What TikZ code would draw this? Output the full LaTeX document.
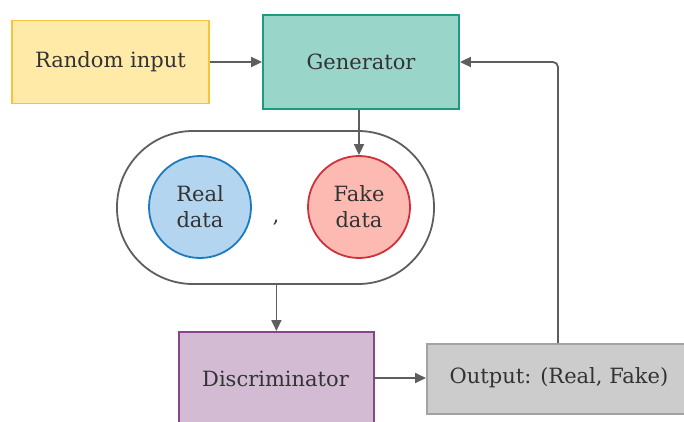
\documentclass[tikz,border=0pt]{standalone}
\usepackage{fontspec}
\setmainfont{DejaVu Serif}
\usetikzlibrary{arrows.meta}
\definecolor{lineC}{HTML}{5E5E5E}
\definecolor{txtC}{HTML}{333333}
\definecolor{randF}{HTML}{FFEBA7}
\definecolor{randD}{HTML}{F7C33E}
\definecolor{genF}{HTML}{9AD5CA}
\definecolor{genD}{HTML}{1E9A80}
\definecolor{realF}{HTML}{B3D5F0}
\definecolor{realD}{HTML}{1C7BBF}
\definecolor{fakeF}{HTML}{FDBAB3}
\definecolor{fakeD}{HTML}{CF313B}
\definecolor{discF}{HTML}{D3BBD4}
\definecolor{discD}{HTML}{87458A}
\definecolor{outF}{HTML}{CCCCCC}
\definecolor{outD}{HTML}{A3A3A3}
\tikzset{
  x=1pt, y=-1pt,
  lbl/.style={text=txtC, font=\fontsize{21}{25}\selectfont},
  box/.style={draw, line width=1.8pt, inner sep=0pt, lbl},
  dot/.style={draw, circle, line width=1.8pt, minimum size=102pt, inner sep=0pt, align=center, lbl, font=\fontsize{21}{26}\selectfont},
  conn/.style={draw=lineC, line width=1.8pt, -{Triangle[length=11pt,width=10pt]}},
}
\begin{document}
\begin{tikzpicture}
\useasboundingbox (0,0) rectangle (684,421);
\clip (0,0) rectangle (684,421);
\node[box, fill=randF, draw=randD, minimum width=197pt, minimum height=83pt] (rand) at (110.5,62) {Random input};
\node[box, fill=genF, draw=genD, minimum width=196pt, minimum height=94pt] (gen) at (361,62) {Generator};
\node[draw=lineC, line width=1.8pt, rounded corners=76pt, minimum width=317pt, minimum height=153pt] (cont) at (275.5,207.5) {};
\node[dot, fill=realF, draw=realD] (real) at (200,207) {\raisebox{-6pt}{Real}\\\raisebox{-6pt}{data}};
\node[dot, fill=fakeF, draw=fakeD] (fake) at (359,207) {\raisebox{-6pt}{Fake}\\\raisebox{-6pt}{data}};
\node[lbl] (comma) at (276,223) {,};
\node[box, fill=discF, draw=discD, minimum width=195pt, minimum height=96pt, anchor=north west] (disc) at (178,331) {};
\node[lbl] (disct) at (275.5,379) {Discriminator};
\node[box, fill=outF, draw=outD, minimum width=266pt, minimum height=70pt, anchor=north west] (out) at (426,343) {};
\node[lbl] (outt) at (559,378) {Output: (Real, Fake)};
\coordinate (dR) at (373,378);
\coordinate (oL) at (426,378);
\coordinate (oT) at (558,343);
\draw[conn] (rand.east) -- (gen.west);
\draw[conn] (gen.south -| fake.north) -- (fake.north);
\draw[conn] (cont.south -| disc.north) -- (disc.north);
\draw[conn] (dR) -- (oL);
\draw[conn, rounded corners=5pt] (oT) -- (oT |- gen.east) -- (gen.east);
\end{tikzpicture}
\end{document}
